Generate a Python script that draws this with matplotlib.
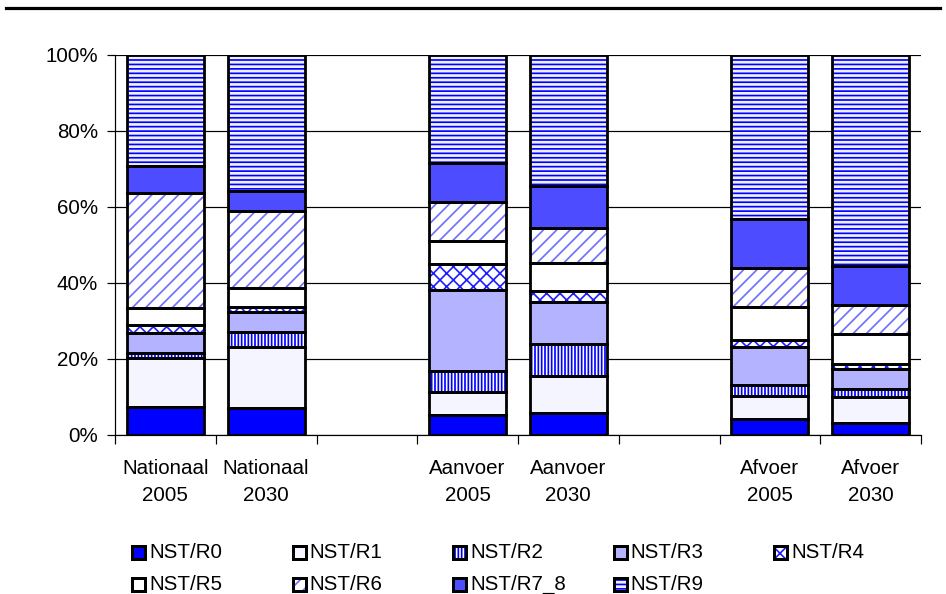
import numpy as np
import matplotlib
matplotlib.use("Agg")
import matplotlib.pyplot as plt
from matplotlib.patches import Rectangle
from matplotlib.lines import Line2D
from matplotlib.ticker import FixedLocator, FuncFormatter

DPI = 80
W, H = 946, 594


def pt(px):
    """Convert a pixel length to points at the figure dpi."""
    return px * 72.0 / DPI


# ---- data (share of each NST group, %) ----
categories = ["Nationaal\n2005", "Nationaal\n2030",
              "Aanvoer\n2005", "Aanvoer\n2030",
              "Afvoer\n2005", "Afvoer\n2030"]
series_names = ["NST/R0", "NST/R1", "NST/R2", "NST/R3", "NST/R4",
                "NST/R5", "NST/R6", "NST/R7_8", "NST/R9"]
r0 = [7.3, 7.0, 5.3, 5.7, 4.1, 3.1]
r1 = [12.9, 16.1, 6.1, 9.8, 6.2, 7.0]
r2 = [1.3, 3.9, 5.4, 8.4, 2.9, 2.0]
r3 = [5.3, 5.3, 21.4, 11.0, 9.9, 5.3]
r4 = [2.1, 1.5, 6.7, 3.0, 1.9, 1.3]
r5 = [4.6, 4.8, 6.2, 7.4, 8.8, 7.8]
r6 = [30.1, 20.4, 10.3, 9.1, 10.1, 7.7]
r7_8 = [7.2, 5.2, 10.1, 11.0, 12.9, 10.3]
r9 = [29.2, 35.8, 28.5, 34.6, 43.2, 55.5]
series_values = [r0, r1, r2, r3, r4, r5, r6, r7_8, r9]
y_ticks = [0, 20, 40, 60, 80, 100]

# fill colour, hatch pattern, hatch colour per series
styles = [
    ("#0000FF", None, "#0000FF"),
    ("#F5F5FF", None, "#F5F5FF"),
    ("#FFFFFF", "||||", "#0000FF"),
    ("#B3B3FF", None, "#B3B3FF"),
    ("#FFFFFF", "xx", "#2020FF"),
    ("#FFFFFF", None, "#FFFFFF"),
    ("#FFFFFF", "//", "#7070FF"),
    ("#4D4DFF", None, "#4D4DFF"),
    ("#EEF0FF", "---", "#0000FF"),
]

plt.rcParams["font.family"] = ["Liberation Sans", "DejaVu Sans"]
plt.rcParams["hatch.linewidth"] = pt(1.7)

fig = plt.figure(figsize=(W / DPI, H / DPI), dpi=DPI)
fig.patch.set_facecolor("white")

ax_left, ax_right, ax_top, ax_bottom = 115, 921, 55, 435
ax = fig.add_axes([ax_left / W, 1 - ax_bottom / H,
                   (ax_right - ax_left) / W, (ax_bottom - ax_top) / H])

n = len(categories)
# two bars per group, one empty slot between groups
slots = np.array([i + i // 2 for i in range(n)], dtype=float)
n_slots = int(slots[-1]) + 1
bar_w = 0.765
edge_lw = pt(2.8)

bottom = np.zeros(n)
for vals, (fc, hatch, hc) in zip(series_values, styles):
    vals = np.asarray(vals, dtype=float)
    ax.bar(slots, vals, bar_w, bottom=bottom, color=fc, hatch=hatch,
           edgecolor=hc, linewidth=0, zorder=2)
    ax.bar(slots, vals, bar_w, bottom=bottom, fill=False,
           edgecolor="black", linewidth=edge_lw, zorder=3)
    bottom += vals

ax.set_xlim(-0.5, n_slots - 0.5)
ax.set_ylim(0, 100)

# axes styling
for side in ("top", "right"):
    ax.spines[side].set_visible(False)
for side in ("left", "bottom"):
    ax.spines[side].set_linewidth(pt(1.2))
    ax.spines[side].set_color("black")

ax.set_axisbelow(True)
ax.yaxis.set_major_locator(FixedLocator(y_ticks))
ax.yaxis.set_major_formatter(FuncFormatter(lambda v, p: f"{v:.0f}%"))
ax.yaxis.grid(True, color="black", linewidth=pt(1.2), zorder=0)
ax.tick_params(axis="y", which="major", length=pt(8), width=pt(1.2),
               pad=pt(9), labelsize=pt(20.5), colors="black")

ax.xaxis.set_major_locator(FixedLocator(np.arange(n_slots + 1) - 0.5))
ax.xaxis.set_major_formatter(FuncFormatter(lambda v, p: ""))
ax.xaxis.set_minor_locator(FixedLocator(slots))
ax.set_xticklabels(categories, minor=True)
ax.tick_params(axis="x", which="major", length=pt(9), width=pt(1.2))
ax.tick_params(axis="x", which="minor", length=0, pad=pt(24),
               labelsize=pt(20.5))
for lbl in ax.get_xticklabels(minor=True):
    lbl.set_linespacing(1.55)

# heavy rule across the top of the figure
fig.add_artist(Line2D([6 / W, 940 / W], [1 - 7.5 / H, 1 - 7.5 / H],
                      transform=fig.transFigure, color="black",
                      linewidth=pt(3.2)))

# legend: 5 columns x 2 rows of small swatches
sq = 13
col_x0, col_dx = 132, 160.5
row_y = [552, 584]
for i, (name, (fc, hatch, hc)) in enumerate(zip(series_names, styles)):
    col, row = i % 5, i // 5
    x = col_x0 + col * col_dx
    yc = row_y[row]
    rx, ry = x / W, 1 - (yc + sq / 2) / H
    rw, rh = sq / W, sq / H
    fig.add_artist(Rectangle((rx, ry), rw, rh, transform=fig.transFigure,
                             facecolor=fc, hatch=hatch, edgecolor=hc,
                             linewidth=0))
    fig.add_artist(Rectangle((rx, ry), rw, rh, transform=fig.transFigure,
                             fill=False, edgecolor="black",
                             linewidth=pt(3)))
    fig.text((x + sq + 4) / W, 1 - yc / H, name, fontsize=pt(20.5),
             va="center", ha="left", color="black")

fig.savefig("out.png", dpi=DPI, facecolor="white")
